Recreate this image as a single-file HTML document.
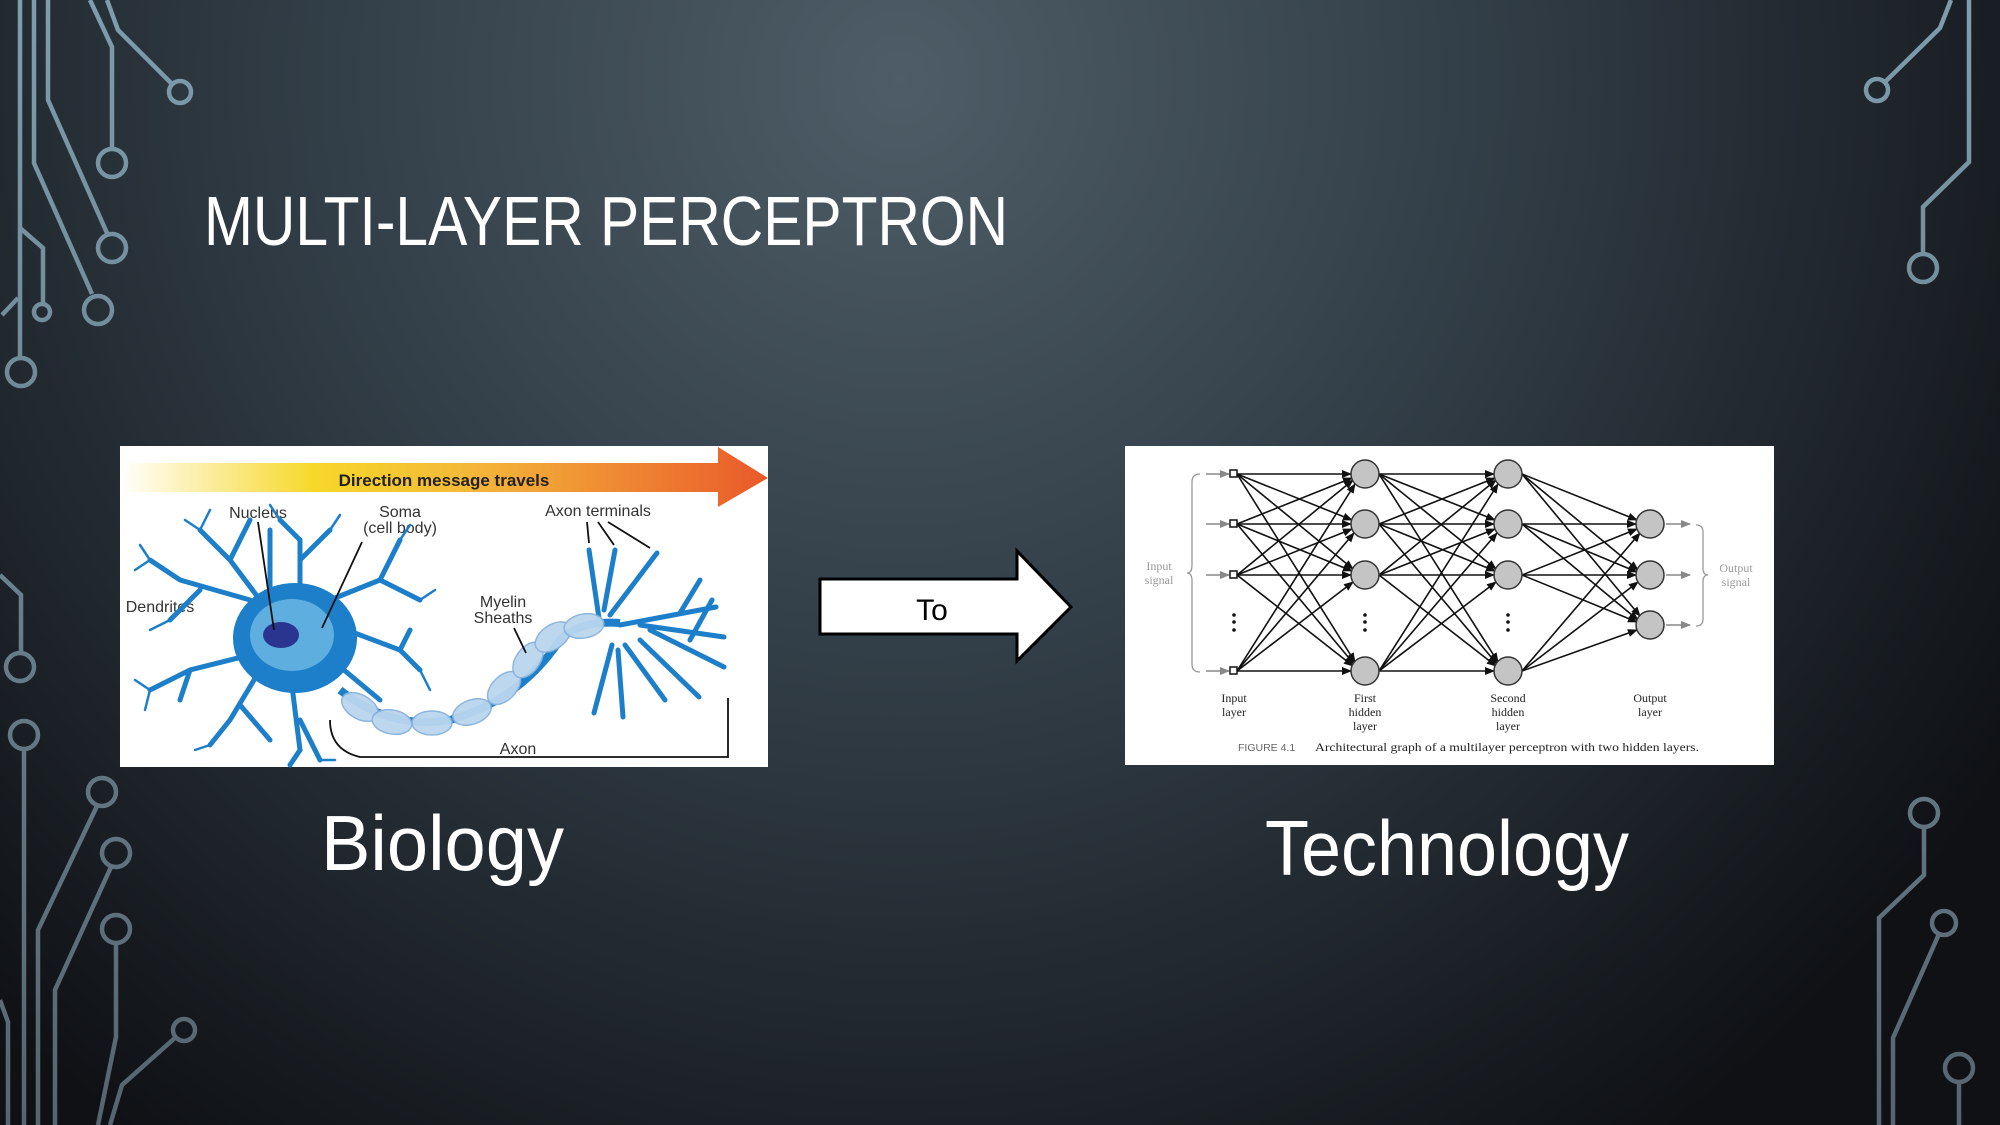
<!DOCTYPE html>
<html><head><meta charset="utf-8"><style>
html,body{margin:0;padding:0;width:2000px;height:1125px;overflow:hidden;background:#1a1f24}
svg{display:block}
</style></head><body>
<svg width="2000" height="1125" viewBox="0 0 2000 1125" xmlns="http://www.w3.org/2000/svg">
<defs>
<radialGradient id="bg" cx="900" cy="80" r="1300" gradientUnits="userSpaceOnUse">
<stop offset="0" stop-color="#4e5d67"/><stop offset="0.45" stop-color="#323e47"/><stop offset="1" stop-color="#0f1115"/>
</radialGradient>
<linearGradient id="ck" x1="0" y1="0" x2="0" y2="1125" gradientUnits="userSpaceOnUse">
<stop offset="0" stop-color="#7e9dad"/><stop offset="1" stop-color="#56656f"/>
</linearGradient>
<linearGradient id="dir" x1="120" y1="0" x2="768" y2="0" gradientUnits="userSpaceOnUse">
<stop offset="0" stop-color="#ffffff"/><stop offset="0.3" stop-color="#f6d82a"/><stop offset="0.55" stop-color="#f4b63a"/><stop offset="1" stop-color="#e9592a"/>
</linearGradient>
<marker id="ah" markerWidth="10" markerHeight="8" refX="9" refY="4" orient="auto" markerUnits="userSpaceOnUse">
<path d="M0,0 L10,4 L0,8 z" fill="#111"/>
</marker>
<marker id="ahg" markerWidth="10" markerHeight="8" refX="9" refY="4" orient="auto" markerUnits="userSpaceOnUse">
<path d="M0,0 L10,4 L0,8 z" fill="#888"/>
</marker>
</defs>
<rect width="2000" height="1125" fill="url(#bg)"/>

<!-- circuits -->
<g fill="none" stroke="url(#ck)" stroke-width="4.5">
<path d="M20,0 V358"/><circle cx="21" cy="372" r="14"/>
<path d="M34,0 V163 L92,294"/><circle cx="98" cy="310" r="14"/>
<path d="M48,0 V100 L107,233"/><circle cx="112" cy="248" r="14"/>
<path d="M90,0 L112,47 V148"/><circle cx="112" cy="163" r="14"/>
<path d="M107,0 L118,30 L172,84"/><circle cx="180" cy="92" r="11"/>
<path d="M20,228 L43,248 V304"/><circle cx="42" cy="312" r="8"/>
<path d="M2,315 L18,298"/>
<path d="M1969,0 V162 L1923,207 V254"/><circle cx="1923" cy="268" r="14"/>
<path d="M1951,0 L1940,28 L1886,81"/><circle cx="1877" cy="90" r="11"/>
<path d="M0,575 L21,595 V652"/><circle cx="20" cy="667" r="14"/>
<circle cx="24" cy="735" r="14"/><path d="M24,749 V1125"/>
<circle cx="102" cy="792" r="14"/><path d="M97,806 L38,930 V1125"/>
<circle cx="116" cy="853" r="14"/><path d="M111,867 L55,990 V1125"/>
<circle cx="116" cy="929" r="14"/><path d="M116,943 V1037 L98,1125"/>
<circle cx="184" cy="1030" r="11"/><path d="M176,1037 L122,1085 L110,1125"/>
<path d="M0,1000 L8,1022 V1125"/>
<circle cx="1924" cy="813" r="14"/><path d="M1924,827 V875 L1879,918 V1125"/>
<circle cx="1944" cy="923" r="12"/><path d="M1939,934 L1893,1038 V1125"/>
<circle cx="1959" cy="1068" r="14"/><path d="M1959,1082 V1125"/>
</g>

<!-- title -->
<text x="204" y="245" font-family="Liberation Sans, sans-serif" font-size="70" fill="#fff" textLength="804" lengthAdjust="spacingAndGlyphs">MULTI-LAYER PERCEPTRON</text>

<!-- neuron image -->
<rect x="120" y="446" width="648" height="321" fill="#fff"/>
<path d="M120,463 H718 V447 L768,478 L718,507 V492 H120 z" fill="url(#dir)"/>
<text x="444" y="486" text-anchor="middle" font-family="Liberation Sans, sans-serif" font-size="17" font-weight="bold" fill="#222">Direction message travels</text>
<g font-family="Liberation Sans, sans-serif" font-size="16" fill="#333" text-anchor="middle">
<text x="258" y="518">Nucleus</text>
<text x="400" y="517">Soma</text><text x="400" y="533">(cell body)</text>
<text x="598" y="516">Axon terminals</text>
<text x="160" y="612">Dendrites</text>
<text x="503" y="607">Myelin</text><text x="503" y="623">Sheaths</text>
<text x="518" y="754">Axon</text>
</g>
<g fill="none" stroke="#1d7fc9" stroke-linecap="round">
<g stroke-width="5">
<path d="M290,640 L230,560 L200,530 M230,560 L250,520 M250,600 L180,580 L150,560 M200,590 L170,620 M270,650 L190,670 L150,690 M190,670 L180,700 M260,670 L230,720 L210,745 M240,705 L270,740 M290,670 L300,750 L290,765 M300,720 L320,760 M320,650 L380,700 M330,600 L380,580 L400,540 M380,580 L420,600 M320,620 L400,650 L420,670 M400,650 L410,630 M300,600 L300,540 L280,520 M300,560 L330,530 M270,600 L270,530"/>
<path d="M600,625 L589,550 M604,610 L615,550 M610,615 L657,553 M620,625 L716,607 M640,625 L724,637 M650,630 L724,667 M640,640 L699,697 M625,645 L665,700 M618,650 L623,717 M612,645 L594,713 M680,613 L700,580 M690,640 L712,600"/>
</g>
<g stroke-width="2.5">
<path d="M200,530 L185,520 M200,530 L210,510 M150,560 L140,545 M150,560 L135,570 M150,690 L135,680 M150,690 L145,710 M210,745 L195,750 M420,670 L430,690 M400,540 L410,525 M420,600 L435,590 M280,520 L270,505 M330,530 L340,515 M170,620 L150,630 M320,760 L335,760"/>
</g>
</g>
<ellipse cx="295" cy="638" rx="62" ry="55" fill="#1d7fc9"/>
<ellipse cx="292" cy="635" rx="42" ry="36" fill="#5eaee0"/>
<ellipse cx="281" cy="635" rx="18" ry="13" fill="#2a3590"/>
<path d="M340,690 Q390,730 450,720 Q520,700 560,640 Q580,620 620,623" fill="none" stroke="#1d7fc9" stroke-width="8"/>
<g fill="#bad6ee" stroke="#86b3dc" stroke-width="1.5" opacity="0.95">
<ellipse cx="360" cy="707" rx="20" ry="12" transform="rotate(30 360 707)"/>
<ellipse cx="392" cy="722" rx="20" ry="12" transform="rotate(10 392 722)"/>
<ellipse cx="432" cy="723" rx="20" ry="12"/>
<ellipse cx="472" cy="712" rx="20" ry="12" transform="rotate(-20 472 712)"/>
<ellipse cx="504" cy="688" rx="20" ry="12" transform="rotate(-45 504 688)"/>
<ellipse cx="528" cy="660" rx="20" ry="12" transform="rotate(-55 528 660)"/>
<ellipse cx="553" cy="637" rx="20" ry="12" transform="rotate(-35 553 637)"/>
<ellipse cx="584" cy="626" rx="20" ry="12" transform="rotate(-10 584 626)"/>
</g>
<g fill="none" stroke="#111" stroke-width="1.8">
<path d="M258,522 L274,630 M362,542 L322,628 M514,628 L526,653 M587,522 L589,543 M598,522 L614,545 M608,522 L650,548"/>
<path d="M330,720 Q330,750 360,757 H728 V698"/>
</g>

<!-- arrow To -->
<path d="M820,579 H1017 V551 L1071,607 L1017,661 V634 H820 z" fill="#fff" stroke="#000" stroke-width="3"/>
<text x="932" y="620" text-anchor="middle" font-family="Liberation Sans, sans-serif" font-size="30" fill="#000">To</text>

<!-- network image -->
<rect x="1125" y="446" width="649" height="319" fill="#fff"/>
<g stroke="#111" stroke-width="1.6" marker-end="url(#ah)">
<!-- input to H1 -->
<path d="M1237,474 L1351,474"/><path d="M1237,474 L1352,520"/><path d="M1237,474 L1353,569"/><path d="M1237,474 L1355,662"/>
<path d="M1237,524 L1352,478"/><path d="M1237,524 L1351,524"/><path d="M1237,524 L1352,571"/><path d="M1237,524 L1354,664"/>
<path d="M1237,575 L1353,480"/><path d="M1237,575 L1352,529"/><path d="M1237,575 L1351,575"/><path d="M1237,575 L1353,666"/>
<path d="M1237,671 L1355,484"/><path d="M1237,671 L1354,533"/><path d="M1237,671 L1353,582"/><path d="M1237,671 L1351,671"/>
<!-- H1 to H2 -->
<path d="M1379,474 L1494,474"/><path d="M1379,474 L1495,520"/><path d="M1379,474 L1496,569"/><path d="M1379,474 L1498,662"/>
<path d="M1379,524 L1495,478"/><path d="M1379,524 L1494,524"/><path d="M1379,524 L1495,571"/><path d="M1379,524 L1497,664"/>
<path d="M1379,575 L1496,480"/><path d="M1379,575 L1495,529"/><path d="M1379,575 L1494,575"/><path d="M1379,575 L1496,666"/>
<path d="M1379,671 L1498,484"/><path d="M1379,671 L1497,533"/><path d="M1379,671 L1496,582"/><path d="M1379,671 L1494,671"/>
<!-- H2 to out -->
<path d="M1522,474 L1637,520"/><path d="M1522,474 L1638,570"/><path d="M1522,474 L1640,616"/>
<path d="M1522,524 L1636,524"/><path d="M1522,524 L1637,572"/><path d="M1522,524 L1638,620"/>
<path d="M1522,575 L1637,529"/><path d="M1522,575 L1636,575"/><path d="M1522,575 L1637,622"/>
<path d="M1522,671 L1640,533"/><path d="M1522,671 L1638,582"/><path d="M1522,671 L1637,630"/>
</g>
<g stroke="#888" stroke-width="1.5" marker-end="url(#ahg)">
<path d="M1206,474 L1229,474"/><path d="M1206,524 L1229,524"/><path d="M1206,575 L1229,575"/><path d="M1206,671 L1229,671"/>
<path d="M1666,524 L1690,524"/><path d="M1666,575 L1690,575"/><path d="M1666,625 L1690,625"/>
</g>
<g fill="#fff" stroke="#111" stroke-width="1.5">
<rect x="1230" y="470" width="7" height="7"/><rect x="1230" y="520" width="7" height="7"/><rect x="1230" y="571" width="7" height="7"/><rect x="1230" y="667" width="7" height="7"/>
</g>
<g fill="#c4c4c4" stroke="#333" stroke-width="1.5">
<ellipse cx="1365" cy="474" rx="14" ry="14"/><ellipse cx="1365" cy="524" rx="14" ry="14"/><ellipse cx="1365" cy="575" rx="14" ry="14"/><ellipse cx="1365" cy="671" rx="14" ry="14"/>
<ellipse cx="1508" cy="474" rx="14" ry="14"/><ellipse cx="1508" cy="524" rx="14" ry="14"/><ellipse cx="1508" cy="575" rx="14" ry="14"/><ellipse cx="1508" cy="671" rx="14" ry="14"/>
<ellipse cx="1650" cy="524" rx="14" ry="14"/><ellipse cx="1650" cy="575" rx="14" ry="14"/><ellipse cx="1650" cy="625" rx="14" ry="14"/>
</g>
<g fill="#111">
<circle cx="1234" cy="615" r="1.8"/><circle cx="1234" cy="622" r="1.8"/><circle cx="1234" cy="630" r="1.8"/>
<circle cx="1365" cy="615" r="1.8"/><circle cx="1365" cy="622" r="1.8"/><circle cx="1365" cy="630" r="1.8"/>
<circle cx="1508" cy="615" r="1.8"/><circle cx="1508" cy="622" r="1.8"/><circle cx="1508" cy="630" r="1.8"/>
</g>
<g fill="none" stroke="#999" stroke-width="1.3">
<path d="M1200,474 Q1192,474 1192,482 V565 Q1192,573 1187,573 Q1192,573 1192,581 V664 Q1192,672 1200,672"/>
<path d="M1696,525 Q1703,525 1703,532 V568 Q1703,575 1708,575 Q1703,575 1703,582 V619 Q1703,626 1696,626"/>
</g>
<g font-family="Liberation Serif, serif" font-size="12" fill="#999" text-anchor="middle">
<text x="1159" y="570">Input</text><text x="1159" y="584">signal</text>
<text x="1736" y="572">Output</text><text x="1736" y="586">signal</text>
</g>
<g font-family="Liberation Serif, serif" font-size="12" fill="#222" text-anchor="middle">
<text x="1234" y="702">Input</text><text x="1234" y="716">layer</text>
<text x="1365" y="702">First</text><text x="1365" y="716">hidden</text><text x="1365" y="730">layer</text>
<text x="1508" y="702">Second</text><text x="1508" y="716">hidden</text><text x="1508" y="730">layer</text>
<text x="1650" y="702">Output</text><text x="1650" y="716">layer</text>
</g>
<text x="1238" y="751" font-family="Liberation Sans, sans-serif" font-size="10.5" fill="#666">FIGURE 4.1</text>
<text x="1315" y="751" font-family="Liberation Serif, serif" font-size="11.5" fill="#222" textLength="384" lengthAdjust="spacingAndGlyphs">Architectural graph of a multilayer perceptron with two hidden layers.</text>

<!-- captions -->
<text x="321" y="870" font-family="Liberation Sans, sans-serif" font-size="78" fill="#fff" textLength="243" lengthAdjust="spacingAndGlyphs">Biology</text>
<text x="1265" y="875" font-family="Liberation Sans, sans-serif" font-size="78" fill="#fff" textLength="364" lengthAdjust="spacingAndGlyphs">Technology</text>
</svg>
</body></html>
